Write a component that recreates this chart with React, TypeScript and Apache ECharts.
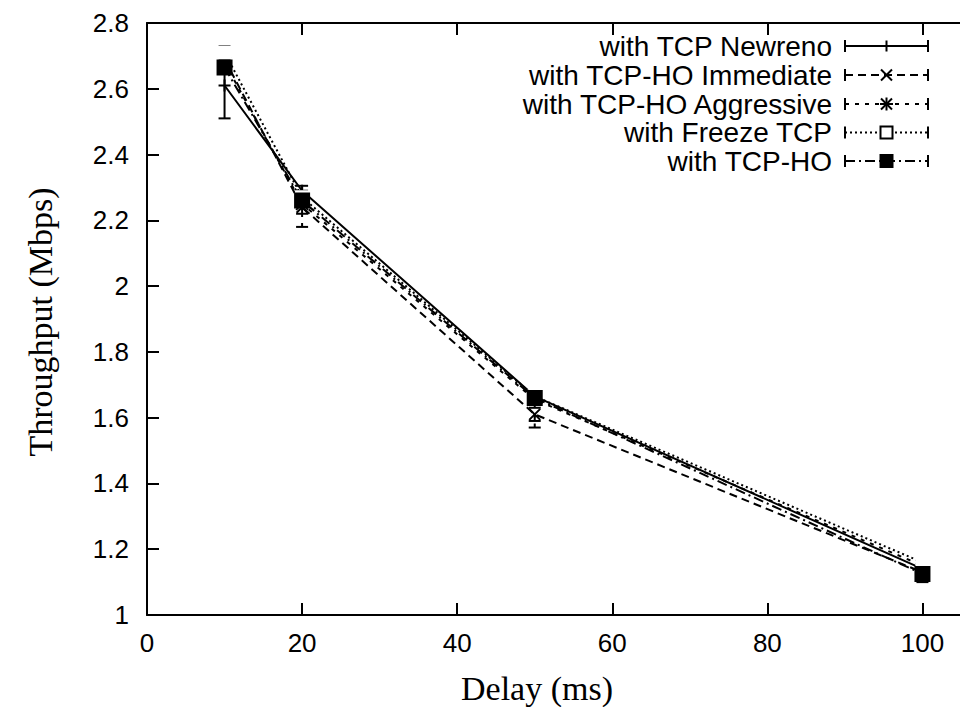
import React, { useEffect, useRef } from "react";
import * as echarts from "echarts";

const delays = [10, 20, 50, 100];
const seriesNames = [
  "with TCP Newreno",
  "with TCP-HO Immediate",
  "with TCP-HO Aggressive",
  "with Freeze TCP",
  "with TCP-HO",
];
const newrenoMean = [2.61, 2.29, 1.665, 1.14];
const newrenoLow = [2.51, 2.275, 1.655, 1.125];
const newrenoHigh = [2.71, 2.305, 1.675, 1.155];
const immediateMean = [2.69, 2.24, 1.61, 1.13];
const immediateLow = [2.67, 2.22, 1.59, 1.12];
const immediateHigh = [2.71, 2.26, 1.63, 1.14];
const aggressiveMean = [2.68, 2.25, 1.655, 1.15];
const aggressiveLow = [2.66, 2.18, 1.57, 1.14];
const aggressiveHigh = [2.7, 2.27, 1.67, 1.16];
const freezeMean = [2.71, 2.27, 1.665, 1.16];
const freezeLow = [2.69, 2.26, 1.655, 1.15];
const freezeHigh = [2.73, 2.28, 1.675, 1.17];
const tcphoMean = [2.665, 2.26, 1.66, 1.125];
const tcphoLow = [2.65, 2.25, 1.65, 1.1];
const tcphoHigh = [2.68, 2.27, 1.67, 1.14];

const xTicks = { min: 0, max: 110, interval: 20 };
const yTicks = { min: 1, max: 2.8, interval: 0.2 };

const SANS = '"Liberation Sans", Arial, Helvetica, sans-serif';
const SERIF = '"Liberation Serif", "Times New Roman", serif';

const PLUS = "path://M5,0L5,10M0,5L10,5";
const CROSS = "path://M0,0L10,10M0,10L10,0";
const STAR = "path://M5,0L5,10M0,5L10,5M0,0L10,10M0,10L10,0";

type Spec = {
  name: string;
  mean: number[];
  low: number[];
  high: number[];
  dash: any;
  symbol: string;
  symbolSize: number;
  fill: string;
};

const specs: Spec[] = [
  { name: seriesNames[0], mean: newrenoMean, low: newrenoLow, high: newrenoHigh, dash: "solid", symbol: PLUS, symbolSize: 12, fill: "none" },
  { name: seriesNames[1], mean: immediateMean, low: immediateLow, high: immediateHigh, dash: [8, 5], symbol: CROSS, symbolSize: 11, fill: "none" },
  { name: seriesNames[2], mean: aggressiveMean, low: aggressiveLow, high: aggressiveHigh, dash: [4, 6], symbol: STAR, symbolSize: 12, fill: "none" },
  { name: seriesNames[3], mean: freezeMean, low: freezeLow, high: freezeHigh, dash: [2, 3], symbol: "emptyRect", symbolSize: 12, fill: "#fff" },
  { name: seriesNames[4], mean: tcphoMean, low: tcphoLow, high: tcphoHigh, dash: [10, 4, 2, 4], symbol: "rect", symbolSize: 14, fill: "#000" },
];

function legendMarker(i: number, cx: number, cy: number): any[] {
  const s = 5.5;
  const st = { stroke: "#000", lineWidth: 2 };
  if (i === 0) {
    return [{ type: "line", shape: { x1: cx, y1: cy - s, x2: cx, y2: cy + s }, style: st }];
  }
  if (i === 1) {
    return [
      { type: "line", shape: { x1: cx - s, y1: cy - s, x2: cx + s, y2: cy + s }, style: st },
      { type: "line", shape: { x1: cx - s, y1: cy + s, x2: cx + s, y2: cy - s }, style: st },
    ];
  }
  if (i === 2) {
    return [
      { type: "line", shape: { x1: cx - s, y1: cy - s, x2: cx + s, y2: cy + s }, style: st },
      { type: "line", shape: { x1: cx - s, y1: cy + s, x2: cx + s, y2: cy - s }, style: st },
      { type: "line", shape: { x1: cx - s - 1, y1: cy, x2: cx + s + 1, y2: cy }, style: st },
      { type: "line", shape: { x1: cx, y1: cy - s - 1, x2: cx, y2: cy + s + 1 }, style: st },
    ];
  }
  if (i === 3) {
    return [
      { type: "rect", shape: { x: cx - 6, y: cy - 6, width: 12, height: 12 }, style: { fill: "#fff", stroke: "#000", lineWidth: 2 } },
    ];
  }
  return [{ type: "rect", shape: { x: cx - 7, y: cy - 7, width: 14, height: 14 }, style: { fill: "#000" } }];
}

export default function App() {
  const ref = useRef<HTMLDivElement>(null);
  useEffect(() => {
    if (!ref.current) return;
    const chart = echarts.init(ref.current, null, { renderer: "svg" });

    const series: any[] = [];
    specs.forEach((sp) => {
      series.push({
        type: "line",
        name: sp.name,
        data: delays.map((d, k) => [d, sp.mean[k]]),
        lineStyle: { color: "#000", width: 2, type: sp.dash },
        symbol: sp.symbol,
        symbolSize: sp.symbolSize,
        itemStyle: { color: sp.fill, borderColor: "#000", borderWidth: 2 },
        z: 3,
      });
      series.push({
        type: "custom",
        name: sp.name + " err",
        data: delays.map((d, k) => [d, sp.low[k], sp.high[k]]),
        renderItem: (params: any, api: any) => {
          const p1 = api.coord([api.value(0), api.value(1)]);
          const p2 = api.coord([api.value(0), api.value(2)]);
          const w = 6;
          const st = { stroke: "#000", lineWidth: 2, lineDash: sp.dash === "solid" ? null : sp.dash };
          return {
            type: "group",
            children: [
              { type: "line", shape: { x1: p1[0], y1: p1[1], x2: p2[0], y2: p2[1] }, style: st },
              { type: "line", shape: { x1: p1[0] - w, y1: p1[1], x2: p1[0] + w, y2: p1[1] }, style: { stroke: "#000", lineWidth: 2 } },
              { type: "line", shape: { x1: p2[0] - w, y1: p2[1], x2: p2[0] + w, y2: p2[1] }, style: { stroke: "#000", lineWidth: 2 } },
            ],
          };
        },
        z: 2,
      });
    });

    const graphics: any[] = [];
    const rowY = [46, 75, 104, 132.5, 161];
    const lx1 = 845;
    const lx2 = 928;
    specs.forEach((sp, i) => {
      const y = rowY[i];
      graphics.push({
        type: "text",
        x: 832,
        y,
        style: { text: sp.name, font: `28px ${SANS}`, fill: "#000", align: "right", verticalAlign: "middle" },
      });
      graphics.push({
        type: "line",
        shape: { x1: lx1, y1: y, x2: lx2, y2: y },
        style: { stroke: "#000", lineWidth: 2, lineDash: sp.dash === "solid" ? null : sp.dash },
      });
      graphics.push({ type: "line", shape: { x1: lx1, y1: y - 6, x2: lx1, y2: y + 6 }, style: { stroke: "#000", lineWidth: 2 } });
      graphics.push({ type: "line", shape: { x1: lx2, y1: y - 6, x2: lx2, y2: y + 6 }, style: { stroke: "#000", lineWidth: 2 } });
      legendMarker(i, (lx1 + lx2) / 2, y).forEach((g) => graphics.push(g));
    });
    graphics.push({
      type: "text",
      x: 537,
      y: 688,
      style: { text: "Delay (ms)", font: `34px ${SERIF}`, fill: "#000", align: "center", verticalAlign: "middle" },
    });
    graphics.push({
      type: "text",
      x: 40,
      y: 322,
      rotation: Math.PI / 2,
      style: { text: "Throughput (Mbps)", font: `34px ${SERIF}`, fill: "#000", align: "center", verticalAlign: "middle" },
    });

    const axisCommon = {
      axisLine: { show: true, lineStyle: { color: "#000", width: 2 } },
      axisTick: { show: true, inside: true, length: 12, lineStyle: { color: "#000", width: 2 } },
      splitLine: { show: false },
    };

    chart.setOption({
      animation: false,
      backgroundColor: "#fff",
      grid: { left: 147, top: 23, right: 40, bottom: 92, containLabel: false },
      xAxis: [
        {
          type: "value",
          ...xTicks,
          position: "bottom",
          ...axisCommon,
          axisLabel: { show: true, color: "#000", fontSize: 26, fontFamily: SANS, margin: 15, showMaxLabel: false },
        },
        {
          type: "value",
          ...xTicks,
          position: "top",
          ...axisCommon,
          axisLabel: { show: false },
        },
      ],
      yAxis: [
        {
          type: "value",
          ...yTicks,
          position: "left",
          ...axisCommon,
          axisLabel: { show: true, color: "#000", fontSize: 26, fontFamily: SANS, margin: 18 },
        },
      ],
      series,
      graphic: graphics,
    });
    return () => chart.dispose();
  }, []);
  return (
    <div style={{ position: "fixed", left: 0, top: 0, width: 960, height: 707, overflow: "hidden", background: "#fff" }}>
      <div ref={ref} style={{ width: 1040, height: 707 }} />
    </div>
  );
}
